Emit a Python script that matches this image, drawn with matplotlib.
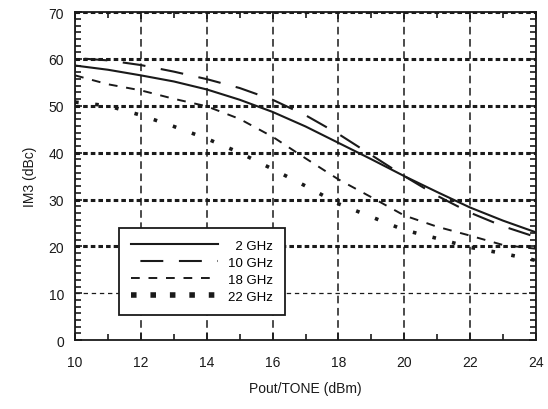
import matplotlib
matplotlib.use("Agg")
import matplotlib.pyplot as plt
from matplotlib.ticker import MultipleLocator, AutoMinorLocator

plt.rcParams['font.family'] = ['Liberation Sans', 'DejaVu Sans']

# output power per tone (dBm)
pout = [10, 11, 12, 13, 14, 15, 16, 17, 18, 19, 20, 21, 22, 23, 24]

# IM3 (dBc) per frequency
im3_2ghz = [58.6, 57.7, 56.5, 55.2, 53.5, 51.3, 48.7, 45.6, 42.1, 38.6, 35.0, 31.6, 28.3, 25.5, 23.0]
im3_10ghz = [60.2, 59.7, 58.7, 57.3, 55.7, 53.8, 51.3, 48.0, 44.0, 39.5, 35.0, 30.8, 27.2, 24.3, 22.0]
im3_18ghz = [56.5, 54.6, 53.3, 51.5, 49.9, 47.2, 43.4, 38.8, 34.3, 30.5, 26.6, 24.2, 22.3, 20.3, 19.5]
im3_22ghz = [50.8, 50.0, 48.0, 45.6, 43.0, 40.0, 36.5, 32.9, 29.1, 26.3, 23.5, 21.7, 19.8, 18.5, 17.0]

labels = ['\u20072 GHz', '10 GHz', '18 GHz', '22 GHz']

fig = plt.figure(figsize=(5.48, 4.10), dpi=100)
ax = fig.add_axes([0.137, 0.168, 0.841, 0.800])

ink = '#1a1a1a'

ax.plot(pout, im3_2ghz, color=ink, lw=1.5, label=labels[0])
ax.plot(pout, im3_10ghz, color=ink, lw=1.5, linestyle=(14, (11, 7.5)), label=labels[1])
ax.plot(pout, im3_18ghz, color=ink, lw=1.4, linestyle=(0, (4.5, 4.5)), label=labels[2])
ax.plot(pout, im3_22ghz, color=ink, lw=2.6, linestyle=(0, (1.0, 4.6)),
        dash_capstyle='butt', label=labels[3])

ax.set_xlim(10, 24)
ax.set_ylim(0, 70)
ax.xaxis.set_major_locator(MultipleLocator(2))
ax.xaxis.set_minor_locator(MultipleLocator(1))
ax.yaxis.set_major_locator(MultipleLocator(10))
ax.yaxis.set_minor_locator(AutoMinorLocator(7))

ax.tick_params(which='both', direction='in', top=True, right=True, colors=ink,
               labelsize=10, width=1.2)
ax.tick_params(which='major', length=5)
ax.tick_params(axis='x', which='major', pad=11)
ax.tick_params(axis='y', which='major', pad=8)
ax.tick_params(which='minor', length=4)

# vertical grid: thin dashes; horizontal grid: heavy dots, 10 dB line thin
ax.grid(True, axis='x', color=ink, lw=1.1, linestyle=(0, (5, 3)))
ax.grid(True, axis='y', color=ink, lw=2.2, linestyle=(0, (1.5, 1.0)))
ax.set_axisbelow(True)
for gl, val in zip(ax.get_ygridlines(), ax.get_yticks()):
    if val == 10:
        gl.set_linewidth(0.9)
        gl.set_linestyle((0, (3.5, 3)))
    if val == 0:
        gl.set_visible(False)

for sp in ax.spines.values():
    sp.set_linewidth(1.3)
    sp.set_color(ink)

ax.set_xlabel('Pout/TONE (dBm)', fontsize=10, color=ink, labelpad=8)
ax.set_ylabel('IM3 (dBc)', fontsize=10, color=ink, labelpad=8)

leg = ax.legend(loc='lower left', bbox_to_anchor=(0.095, 0.078), fontsize=9.5,
                handlelength=6.6, handletextpad=0.8, labelspacing=0.35,
                borderpad=0.9, borderaxespad=0, fancybox=False, framealpha=1)
leg.get_frame().set_edgecolor(ink)
leg.get_frame().set_linewidth(1.3)
leg.legend_handles[3].set_linewidth(4.0)
leg.legend_handles[3].set_linestyle((0, (1.0, 2.5)))

fig.savefig('out.png', dpi=100)
